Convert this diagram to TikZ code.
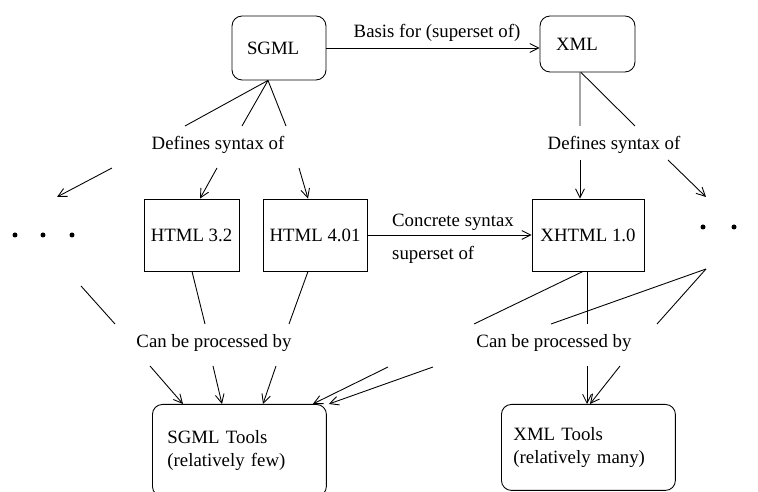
\documentclass[tikz,border=0pt]{standalone}
\usepackage{fontspec}
\setmainfont{Liberation Serif}
\usepackage{tikz}
\usetikzlibrary{arrows.meta}

\tikzset{
  lbl/.style={font=\fontsize{10.7}{12.8}\selectfont, inner sep=1pt},
  rbox/.style={draw, rounded corners=0.2cm, lbl, align=left},
  sbox/.style={draw, lbl, minimum height=1.44cm},
  tbox/.style={draw, rounded corners=0.2cm, lbl, anchor=north west,
    minimum width=3.48cm, text width=3.0cm, align=left, inner xsep=0.24cm},
  arr/.style={-{Straight Barb[length=5pt,width=5pt]}},
}

\begin{document}
\begin{tikzpicture}[x=0.02cm, y=-0.02cm, line width=0.5pt]
    \useasboundingbox (0,0) rectangle (758,492);
    \clip (0,0) rectangle (758,492);

    % boxes
    \node[rbox, minimum width=1.88cm, minimum height=1.28cm, inner xsep=0.3cm, text width=1.28cm] (sgml) at (279,48) {SGML};
    \node[rbox, minimum width=1.90cm, minimum height=1.12cm, inner xsep=0.32cm, text width=1.26cm] (xml) at (587.5,44) {XML};
    \node[sbox, minimum width=1.90cm] (html32) at (191.5,235) {HTML 3.2};
    \node[sbox, minimum width=2.08cm] (html401) at (315,235) {HTML 4.01};
    \node[sbox, minimum width=2.24cm] (xhtml) at (588,235) {XHTML 1.0};
    \node[tbox, minimum height=1.84cm, inner xsep=0.3cm, text width=2.88cm] (sgmltools) at (152,404) {SGML Tools\\(relatively few)};
    \node[tbox, minimum height=1.72cm] (xmltools) at (501,404) {XML Tools\\(relatively many)};

    % labels
    \node[lbl] (basis) at (437,33) {Basis for (superset of)};
    \node[lbl] (defsL) at (218,145) {Defines syntax of};
    \node[lbl] (defsR) at (614,145) {Defines syntax of};
    \node[lbl, anchor=west] (concrete) at (390,222) {Concrete syntax};
    \node[lbl, anchor=west] (superset) at (390,255) {superset of};
    \node[lbl] (procL) at (214,343) {Can be processed by};
    \node[lbl] (procR) at (554,343) {Can be processed by};

    % the dots
    \foreach \x in {15,43,72} \fill (\x,235) circle (0.05cm);
    \foreach \x in {703,734} \fill (\x,227) circle (0.05cm);
    \coordinate (dotsL) at (57,197);
    \coordinate (dotsLb) at (81,286);
    \coordinate (dotsR) at (706,197);
    \coordinate (dotsRb) at (706,269);

    % free ends round the labels
    \coordinate (dL1) at (185,126);
    \coordinate (dL2) at (242,126);
    \coordinate (dL3) at (286,126);
    \coordinate (dL4) at (112,168);
    \coordinate (dL5) at (217,168);
    \coordinate (dL6) at (299,168);
    \coordinate (dR1) at (580,126);
    \coordinate (dR2) at (635,126);
    \coordinate (dR3) at (580,160);
    \coordinate (dR4) at (668,160);
    \coordinate (pL1) at (115,324);
    \coordinate (pL2) at (205,324);
    \coordinate (pL3) at (289,324);
    \coordinate (pL4) at (150,366);
    \coordinate (pL5) at (213,366);
    \coordinate (pL6) at (276,366);
    \coordinate (pR1) at (474,324);
    \coordinate (pR2) at (587,324);
    \coordinate (pR3) at (551,324);
    \coordinate (pR4) at (657,324);
    \coordinate (pR5) at (388,367);
    \coordinate (pR6) at (433,367);
    \coordinate (pR7) at (587,366);
    \coordinate (pR8) at (620,366);

    % top row
    \draw[arr] (sgml.east) -- (sgml.east -| xml.west);
    \draw[arr] (html401.east) -- (xhtml.west);

    % SGML defines
    \draw ([xshift=-0.22cm]sgml.south) -- (dL1);
    \draw ([xshift=-0.22cm]sgml.south) -- (dL2);
    \draw ([xshift=-0.22cm]sgml.south) -- (dL3);
    \draw[arr] (dL4) -- (dotsL);
    \draw[arr] (dL5) -- ([xshift=0.17cm]html32.north);
    \draw[arr] (dL6) -- ([xshift=-0.14cm]html401.north);

    % XML defines
    \draw ([xshift=-0.15cm]xml.south) -- (dR1);
    \draw ([xshift=-0.13cm]xml.south) -- (dR2);
    \draw[arr] (dR3) -- (dR3 |- xhtml.north);
    \draw[arr] (dR4) -- (dotsR);

    % processed by, left
    \draw (dotsLb) -- (pL1);
    \draw ([xshift=0.01cm]html32.south) -- (pL2);
    \draw ([xshift=-0.14cm]html401.south) -- (pL3);
    \draw[arr] (pL4) -- ([xshift=0.62cm]sgmltools.north west);
    \draw[arr] (pL5) -- ([xshift=1.4cm]sgmltools.north west);
    \draw[arr] (pL6) -- ([xshift=2.22cm]sgmltools.north west);
    \draw[arr] (pR5) -- ([xshift=-0.28cm]sgmltools.north east);
    \draw[arr] (pR6) -- ([xshift=0.04cm]sgmltools.north east);

    % processed by, right
    \draw ([xshift=-0.1cm]xhtml.south) -- (pR1);
    \draw ([xshift=-0.02cm]xhtml.south) -- (pR2);
    \draw (dotsRb) -- (pR3);
    \draw (dotsRb) -- (pR4);
    \draw[arr] (pR7) -- (pR7 |- xmltools.north);
    \draw[arr] (pR8) -- ([xshift=1.78cm]xmltools.north west);
\end{tikzpicture}
\end{document}
